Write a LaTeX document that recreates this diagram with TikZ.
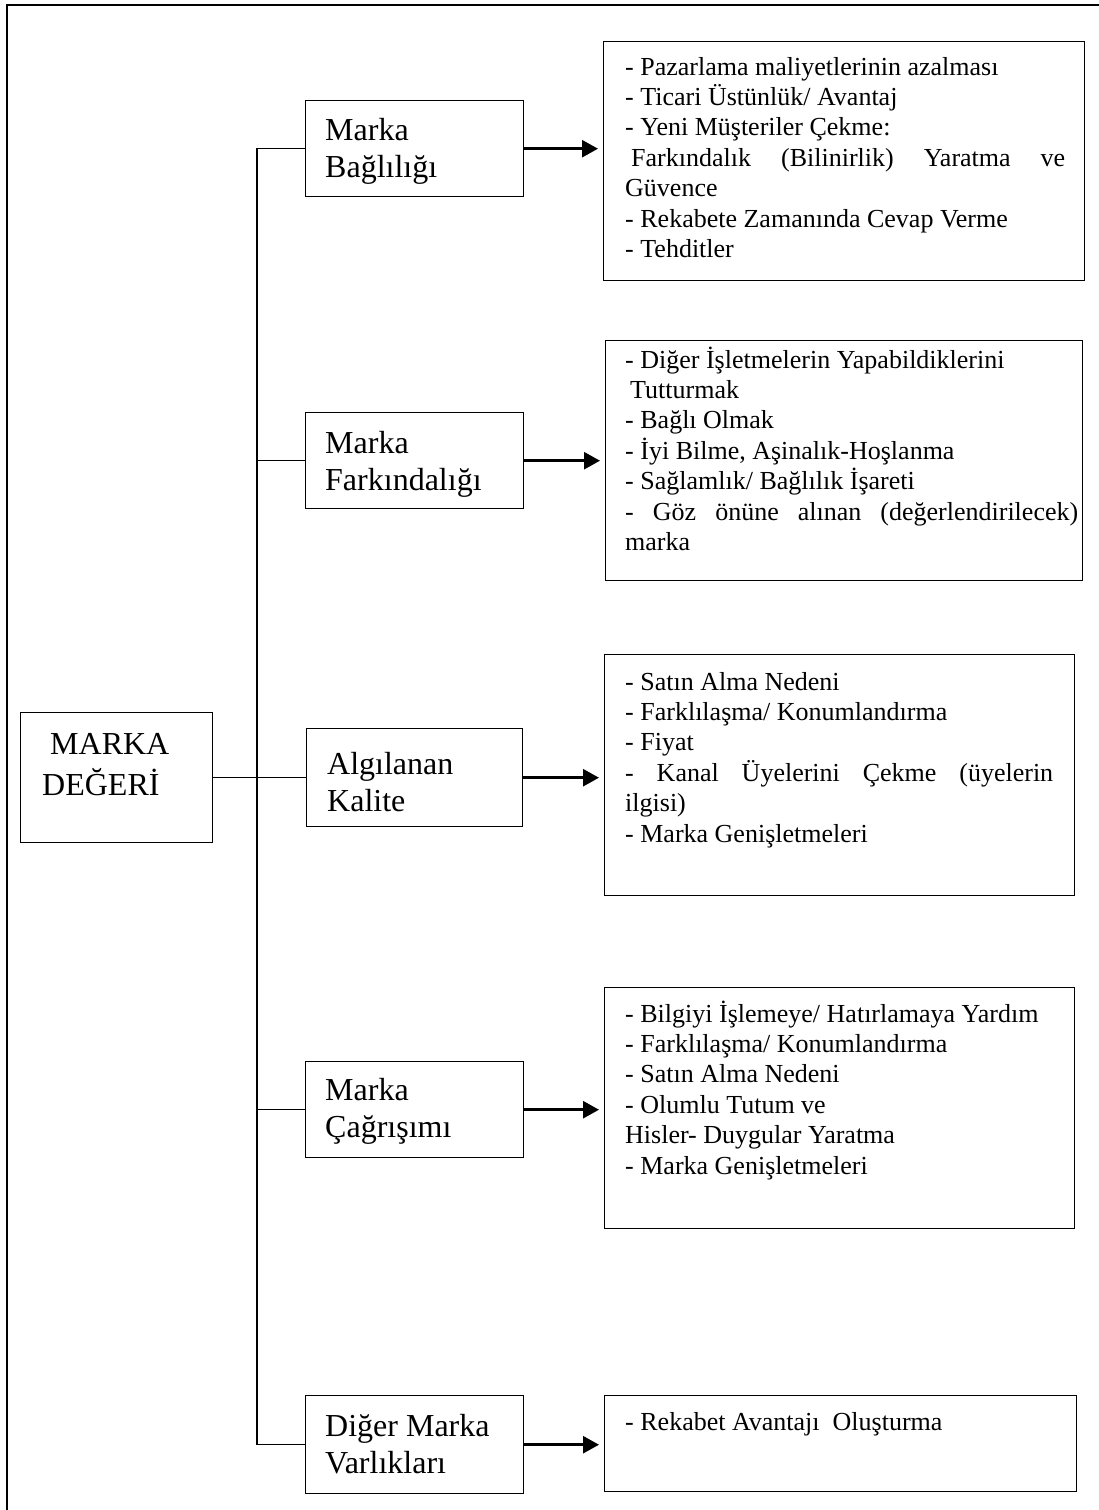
\documentclass[tikz,border=0pt]{standalone}
\usepackage{fontspec}
\setmainfont{Liberation Serif}
\usetikzlibrary{arrows.meta}
% a line stretched to the full width of its paragraph box
\newcommand{\fullline}[1]{\makebox[\linewidth][s]{#1}}
\begin{document}
\begin{tikzpicture}[x=1pt,y=-1pt,
  box/.style={draw,line width=1.4pt,rectangle,inner sep=0pt,anchor=north west},
  lbl/.style={anchor=base west,inner sep=0pt,font=\fontsize{32}{37}\selectfont},
  itm/.style={anchor=base west,inner sep=0pt,font=\fontsize{26}{30.4}\selectfont},
  link/.style={line width=1.4pt},
  feed/.style={line width=2.6pt,-{Triangle[length=16pt,width=17pt]},shorten >=5pt}
]
\useasboundingbox (0,0) rectangle (1099,1510);

% page frame (top and left edges)
\draw[line width=2pt] (7,1510) -- (7,5) -- (1099,5);

% root box
\node[box,minimum width=192pt,minimum height=130pt] (mv) at (20,712) {};
\node[anchor=base west,inner sep=0pt,font=\fontsize{32}{41}\selectfont] (mvt) at (42,754)
  {\parbox[t]{180pt}{\hspace*{8pt}MARKA\\DEĞERİ}};

% dimension boxes
\node[box,minimum width=218pt,minimum height=96pt] (k1) at (305,100) {};
\node[box,minimum width=218pt,minimum height=96pt] (k2) at (305,412) {};
\node[box,minimum width=216pt,minimum height=98pt] (k3) at (306,728) {};
\node[box,minimum width=218pt,minimum height=96pt] (k4) at (305,1061) {};
\node[box,minimum width=218pt,minimum height=98pt] (k5) at (305,1395) {};

\node[lbl] (k1t) at (325,140)  {\parbox[t]{200pt}{Marka\\Bağlılığı}};
\node[lbl] (k2t) at (325,453)  {\parbox[t]{200pt}{Marka\\Farkındalığı}};
\node[lbl] (k3t) at (327,774)  {\parbox[t]{200pt}{Algılanan\\Kalite}};
\node[lbl] (k4t) at (325,1100) {\parbox[t]{200pt}{Marka\\Çağrışımı}};
\node[lbl] (k5t) at (325,1436) {\parbox[t]{200pt}{Diğer Marka\\Varlıkları}};

% outcome boxes
\node[box,minimum width=481pt,minimum height=239pt] (r1) at (603,41) {};
\node[box,minimum width=477pt,minimum height=240pt] (r2) at (605,340) {};
\node[box,minimum width=470pt,minimum height=241pt] (r3) at (604,654) {};
\node[box,minimum width=470pt,minimum height=241pt] (r4) at (604,987) {};
\node[box,minimum width=472pt,minimum height=96pt]  (r5) at (604,1395) {};

\node[itm] (r1t) at (625,75) {\parbox[t]{440pt}{%
- Pazarlama maliyetlerinin azalması\\
- Ticari Üstünlük/ Avantaj\\
- Yeni Müşteriler Çekme:\\
\fullline{\hspace*{6pt}Farkındalık (Bilinirlik) Yaratma ve}\\
Güvence\\
- Rekabete Zamanında Cevap Verme\\
- Tehditler}};

\node[itm] (r2t) at (625,368) {\parbox[t]{453pt}{%
- Diğer İşletmelerin Yapabildiklerini\\
\hspace*{5pt}Tutturmak\\
- Bağlı Olmak\\
- İyi Bilme, Aşinalık-Hoşlanma\\
- Sağlamlık/ Bağlılık İşareti\\
\fullline{- Göz önüne alınan (değerlendirilecek)}\\
marka}};

\node[itm] (r3t) at (625,690) {\parbox[t]{428pt}{%
- Satın Alma Nedeni\\
- Farklılaşma/ Konumlandırma\\
- Fiyat\\
\fullline{- Kanal Üyelerini Çekme (üyelerin}\\
ilgisi)\\
- Marka Genişletmeleri}};

\node[itm] (r4t) at (625,1022) {\parbox[t]{440pt}{%
- Bilgiyi İşlemeye/ Hatırlamaya Yardım\\
- Farklılaşma/ Konumlandırma\\
- Satın Alma Nedeni\\
- Olumlu Tutum ve\\
Hisler- Duygular Yaratma\\
- Marka Genişletmeleri}};

\node[itm] (r5t) at (625,1430) {\parbox[t]{440pt}{- Rekabet Avantajı\ \ Oluşturma}};

% tree connectors
\coordinate (sp) at (257,0);
\draw[link] (k1.west) -- (k1.west -| sp) -- (k5.west -| sp) -- (k5.west);
\draw[link] (k2.west) -- (k2.west -| sp);
\draw[link] (k4.west) -- (k4.west -| sp);
\draw[link] (mv.east) -- (k3.west);

% arrows to outcomes
\draw[feed] (k1.east) -- (k1.east -| r1.west);
\draw[feed] (k2.east) -- (k2.east -| r2.west);
\draw[feed] (k3.east) -- (k3.east -| r3.west);
\draw[feed] (k4.east) -- (k4.east -| r4.west);
\draw[feed] (k5.east) -- (k5.east -| r5.west);
\end{tikzpicture}
\end{document}
